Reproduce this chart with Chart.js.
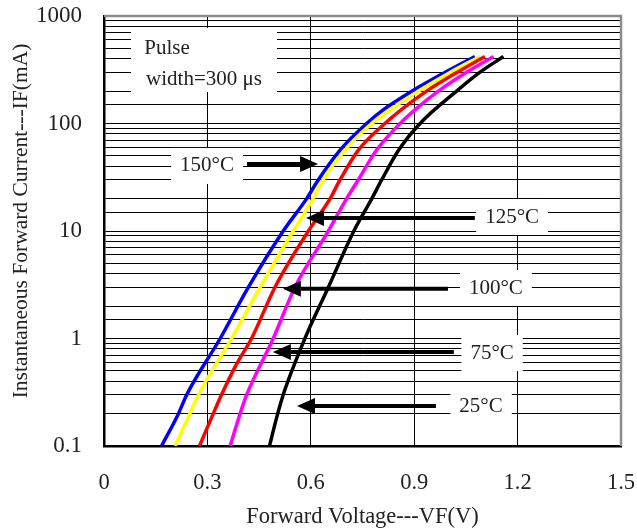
<!DOCTYPE html>
<html><head><meta charset="utf-8">
<script src="https://cdn.jsdelivr.net/npm/chart.js@4.4.1/dist/chart.umd.min.js"></script>
<style>html,body{margin:0;padding:0;background:#fff}</style>
</head><body>
<canvas id="c" width="637" height="531"></canvas>
<script>
// ---- data ----
const xTickLabels = ['0', '0.3', '0.6', '0.9', '1.2', '1.5'];
const yTickLabels = ['0.1', '1', '10', '100', '1000'];

const v150 = [0.167, 0.216, 0.240, 0.337, 0.419, 0.520, 0.588, 0.622, 0.685, 0.762, 0.810, 0.893, 0.990, 1.076];
const i150 = [0.1, 0.2, 0.3, 1, 3, 10, 20, 30, 56.6, 100, 134, 200, 300, 420];

const v125 = [0.206, 0.249, 0.274, 0.370, 0.453, 0.549, 0.607, 0.636, 0.699, 0.777, 0.830, 0.912, 1.005, 1.091];
const i125 = [0.1, 0.2, 0.3, 1, 3, 10, 20, 30, 56.6, 100, 134, 200, 300, 420];

const v100 = [0.277, 0.317, 0.341, 0.385, 0.428, 0.496, 0.593, 0.656, 0.685, 0.738, 0.815, 0.862, 0.936, 1.025, 1.105];
const i100 = [0.1, 0.2, 0.3, 0.58, 1, 3, 10, 20, 30, 56.6, 100, 134, 200, 300, 420];

const v75 = [0.366, 0.395, 0.414, 0.491, 0.554, 0.651, 0.704, 0.738, 0.791, 0.859, 0.902, 0.970, 1.052, 1.130];
const i75 = [0.1, 0.2, 0.3, 1, 3, 10, 20, 30, 56.6, 100, 134, 200, 300, 420];

const v25 = [0.480, 0.504, 0.520, 0.583, 0.651, 0.725, 0.777, 0.806, 0.855, 0.917, 1.023, 1.091, 1.159];
const i25 = [0.1, 0.2, 0.3, 1, 3, 10, 20, 30, 56.6, 100, 200, 300, 420];

const seriesNames = ['25°C', '75°C', '100°C', '125°C', '150°C'];

// annotation labels (data coordinates) and arrows
const tempLabels = [
  {text: '150°C', x: 0.299, y: 40.3},
  {text: '125°C', x: 1.184, y: 13.5},
  {text: '100°C', x: 1.137, y: 2.95},
  {text: '75°C',  x: 1.126, y: 0.733},
  {text: '25°C',  x: 1.094, y: 0.231}
];
const arrows = [
  {x0: 0.415, x1: 0.621, y: 42},
  {x0: 1.076, x1: 0.586, y: 13.2},
  {x0: 0.998, x1: 0.519, y: 2.9},
  {x0: 1.015, x1: 0.490, y: 0.75},
  {x0: 0.963, x1: 0.560, y: 0.235}
];
const pulseText = ['Pulse', 'width=300 μs'];

const FONT = '"Liberation Serif", "DejaVu Serif", serif';

function pts(xs, ys) { return xs.map((x, k) => ({x: x, y: ys[k]})); }

const colors = ['#000000', '#ff00ff', '#ff0000', '#ffff00', '#0000ff'];
const dataSets = [[v25, i25], [v75, i75], [v100, i100], [v125, i125], [v150, i150]];

function noPad(s) { s.paddingLeft = 0; s.paddingRight = 0; s.paddingTop = 0; s.paddingBottom = 0; }

const annot = {
  id: 'annot',
  beforeDatasetsDraw(chart) {
    const c = chart.ctx, xs = chart.scales.x, ys = chart.scales.y;
    c.save();
    c.font = '21px ' + FONT;
    c.fillStyle = '#fff';
    // pulse box
    c.fillRect(131, 28, 146, 64);
    tempLabels.forEach(l => {
      const px = xs.getPixelForValue(l.x), py = ys.getPixelForValue(l.y);
      const w = c.measureText(l.text).width;
      c.fillRect(px - w / 2 - 9, py - 18, w + 18, 36);
    });
    c.restore();
  },
  afterDatasetsDraw(chart) {
    const c = chart.ctx, xs = chart.scales.x, ys = chart.scales.y, a = chart.chartArea;
    c.save();
    // top/right gray frame
    c.strokeStyle = '#8c8c8c';
    c.lineWidth = 2.5;
    c.beginPath();
    c.moveTo(a.left, a.top); c.lineTo(a.right, a.top); c.lineTo(a.right, a.bottom);
    c.stroke();
    // texts
    c.fillStyle = '#222';
    c.font = '21px ' + FONT;
    c.textAlign = 'center'; c.textBaseline = 'middle';
    c.fillText(pulseText[0], 167, 48);
    c.fillText(pulseText[1], 204, 79);
    tempLabels.forEach(l => {
      c.fillText(l.text, xs.getPixelForValue(l.x), ys.getPixelForValue(l.y));
    });
    // arrows
    c.fillStyle = '#000'; c.strokeStyle = '#000'; c.lineWidth = 4;
    arrows.forEach(ar => {
      const p0 = xs.getPixelForValue(ar.x0), p1 = xs.getPixelForValue(ar.x1), py = ys.getPixelForValue(ar.y);
      const dir = p1 > p0 ? 1 : -1;
      const hl = 18;
      c.beginPath();
      c.moveTo(p0, py); c.lineTo(p1 - dir * hl, py); c.stroke();
      c.beginPath();
      c.moveTo(p1, py);
      c.lineTo(p1 - dir * hl, py - 8);
      c.lineTo(p1 - dir * hl, py + 8);
      c.closePath(); c.fill();
    });
    // y axis title
    c.save();
    c.translate(21, 221);
    c.rotate(-Math.PI / 2);
    c.fillStyle = '#222';
    c.font = '21.5px ' + FONT;
    c.fillText('Instantaneous Forward Current---IF(mA)', 0, 0);
    c.restore();
    c.restore();
  }
};

new Chart(document.getElementById('c'), {
  type: 'line',
  data: {
    datasets: dataSets.map((d, k) => ({
      label: seriesNames[k],
      data: pts(d[0], d[1]),
      borderColor: colors[k],
      backgroundColor: colors[k],
      borderWidth: 3.5,
      pointRadius: 0,
      cubicInterpolationMode: 'monotone',
      fill: false
    }))
  },
  options: {
    responsive: false,
    animation: false,
    devicePixelRatio: 1,
    layout: {padding: {top: 16, right: 16, left: 0, bottom: 0}},
    plugins: {legend: {display: false}, tooltip: {enabled: false}},
    scales: {
      x: {
        type: 'linear', min: 0, max: 1.5,
        ticks: {stepSize: 0.3, color: '#222', font: {family: FONT, size: 22.5}, padding: 24,
          maxRotation: 0, callback: (v, i) => xTickLabels[i]},
        grid: {color: '#000', lineWidth: 1, drawTicks: false},
        border: {color: '#000', width: 2.5},
        title: {display: true, text: 'Forward Voltage---VF(V)', color: '#222',
          font: {family: FONT, size: 22.5}, padding: {top: 8, bottom: 0}},
        afterFit(s) { s.height = 85; noPad(s); }
      },
      y: {
        type: 'logarithmic', min: 0.1, max: 1000,
        ticks: {autoSkip: false, color: '#222', font: {family: FONT, size: 23}, padding: 22,
          callback: (v) => {
            const e = Math.log10(v);
            if (Math.abs(e - Math.round(e)) < 1e-6) return yTickLabels[Math.round(e) + 1];
            return '';
          }},
        grid: {color: '#000', lineWidth: 1, drawTicks: false},
        border: {color: '#000', width: 2.5},
        afterFit(s) { s.width = 104; noPad(s); }
      }
    }
  },
  plugins: [annot]
});
</script>
</body></html>
